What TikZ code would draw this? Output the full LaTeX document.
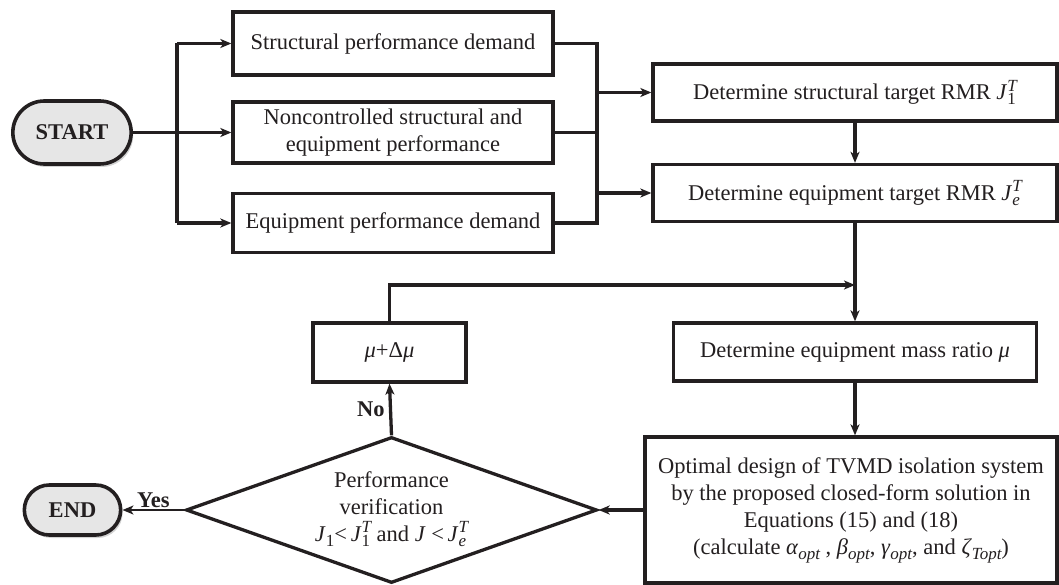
\documentclass[tikz,border=0pt]{standalone}
\usepackage{fontspec}
\setmainfont{Liberation Serif}
\usetikzlibrary{shapes.geometric,shapes.misc,arrows.meta,shadows}
\newcommand{\SupSub}[2]{{\fontsize{17}{17}\selectfont\ooalign{\raisebox{8.5pt}{\itshape #1}\cr\raisebox{-5pt}{#2}\cr}}}
\newcommand{\Sub}[1]{\raisebox{-5pt}{\fontsize{17}{17}\selectfont\itshape #1}}
\definecolor{ink}{HTML}{231F20}
\definecolor{pale}{HTML}{E6E6E6}
\begin{document}
\begin{tikzpicture}[x=1pt,y=-1pt,
  every node/.style={font=\fontsize{22.5}{27}\selectfont, text=ink},
  box/.style={draw=ink, line width=3.3pt, rectangle, fill=white, inner sep=2pt, align=center},
  term/.style={draw=ink, line width=3.6pt, rounded rectangle, fill=pale, font=\fontsize{22.5}{27}\selectfont\bfseries,
    drop shadow={shadow xshift=2pt, shadow yshift=-3pt, opacity=0.35}},
  conn/.style={draw=ink, line width=3.3pt},
  arr/.style={conn, -{Stealth[length=11pt,width=9pt,inset=3pt]}},
  lbl/.style={font=\fontsize{22.5}{27}\selectfont\bfseries}
]
\useasboundingbox (0,0) rectangle (1059,585);

% nodes
\node[term, minimum width=125pt, minimum height=63pt] (start) at (72,132.5) {START};
\node[box, minimum width=320pt, minimum height=63pt] (b1) at (393,43.5) {Structural performance demand};
\node[box, minimum width=320pt, minimum height=61pt] (b2) at (393,132.5) {Noncontrolled structural and\\equipment performance};
\node[box, minimum width=320pt, minimum height=59pt] (b3) at (393,223) {Equipment performance demand};

\node[box, minimum width=404pt, minimum height=57pt] (r1) at (855,92.5) {Determine structural target RMR \textit{J}\SupSub{T}{1}};
\node[box, minimum width=404pt, minimum height=57pt] (r2) at (855,193) {Determine equipment target RMR \textit{J}\SupSub{T}{\itshape e}};
\node[box, minimum width=363pt, minimum height=58pt] (mr) at (855,352) {Determine equipment mass ratio \textit{μ}};
\node[box, minimum width=412pt, minimum height=146pt] (opt) at (851,510)
  {Optimal design of TVMD isolation system\\by the proposed closed-form solution in\\Equations (15) and (18)\\(calculate \textit{α}\Sub{opt} , \textit{β}\Sub{opt}, \textit{γ}\Sub{opt}, and \textit{ζ}\Sub{Topt})};

\node[draw=ink, line width=3.3pt, diamond, aspect=2.815, minimum width=411pt, minimum height=146pt, inner sep=0pt, fill=white] (dia) at (391.5,510) {};
\node[align=center] (dtext) at (391.5,509) {Performance\\verification\\\textit{J}\Sub{\upshape 1}<\,\textit{J}\SupSub{T}{1} and \textit{J} <\,\textit{J}\SupSub{T}{\itshape e}};

\node[box, minimum width=153pt, minimum height=59pt] (mu) at (389.5,352.5) {\textit{μ}+Δ\textit{μ}};
\node[term, minimum width=103pt, minimum height=50pt] (end) at (72.5,510) {END};

% left bus
\coordinate (bl1) at (177,43.5);
\coordinate (bl3) at (177,223);
\draw[conn] (bl1) -- (bl3);
\draw[arr] (start.east) -- (b2.west);
\draw[arr] (bl1) -- (b1.west);
\draw[arr] (bl3) -- (b3.west);

% right bus
\coordinate (br1) at (597,43.5);
\coordinate (br3) at (597,223);
\draw[conn, line join=miter] (b1.east) -- (br1) -- (br3) -- (b3.east);
\draw[conn] (b2.east) -- (b2.east -| br1);
\draw[arr] (br1 |- r1) -- (r1.west);
\draw[arr] (br1 |- r2) -- (r2.west);

% main chain
\draw[arr] (r1.south) -- (r2.north);
\draw[arr] (r2.south) -- (mr.north);
\draw[arr] (mr.south) -- (mr.south |- opt.north);
\draw[arr] (opt.west) -- (dia.east);
\draw[arr, line width=2.6pt] (dia.west) -- node[lbl, above=-2pt] (yes) {Yes} (end.east);
\draw[arr] (dia.north) -- node[lbl, left=1pt] (no) {No} (mu.south);

% feedback
\coordinate (fb) at (855,285);
\draw[arr, line join=miter] (mu.north) -- (mu.north |- fb) -- (fb);
\end{tikzpicture}
\end{document}
